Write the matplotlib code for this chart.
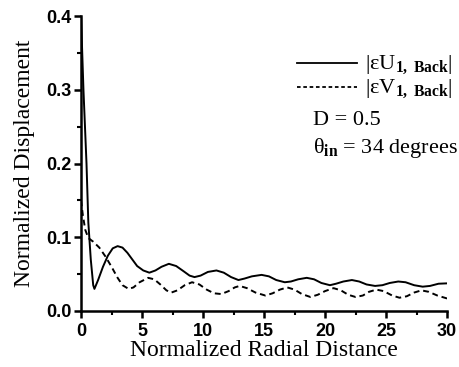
import matplotlib
matplotlib.use("Agg")
import matplotlib.pyplot as plt

plt.rcParams['mathtext.fontset'] = 'custom'
plt.rcParams['mathtext.rm'] = 'Liberation Serif'
plt.rcParams['mathtext.it'] = 'Liberation Serif'
plt.rcParams['mathtext.bf'] = 'Liberation Serif:bold'

# |eps U_1,Back| (solid)
u_x = [0, 0.2, 0.45, 0.6, 0.8, 1.0, 1.1, 1.4, 1.8, 2.2, 2.6, 3.0, 3.4, 3.8,
       4.2, 4.6, 5.1, 5.6, 6.1, 6.6, 7.2, 7.8, 8.4, 8.9, 9.3, 9.8, 10.4,
       11.1, 11.7, 12.3, 12.9, 13.4, 14.0, 14.8, 15.4, 16.0, 16.7, 17.2,
       17.8, 18.5, 19.1, 19.7, 20.4, 20.9, 21.5, 22.2, 22.8, 23.4, 24.1,
       24.7, 25.3, 26.0, 26.6, 27.3, 28.0, 28.6, 29.3, 30.0]
u_y = [0.40, 0.30, 0.20, 0.12, 0.07, 0.035, 0.030, 0.042, 0.060, 0.075,
       0.085, 0.088, 0.086, 0.079, 0.070, 0.061, 0.055, 0.052, 0.055, 0.060,
       0.064, 0.061, 0.054, 0.048, 0.046, 0.048, 0.053, 0.055, 0.052, 0.046,
       0.042, 0.044, 0.047, 0.049, 0.047, 0.042, 0.039, 0.040, 0.043, 0.045,
       0.043, 0.038, 0.035, 0.037, 0.040, 0.042, 0.040, 0.036, 0.034, 0.035,
       0.038, 0.040, 0.039, 0.035, 0.033, 0.034, 0.037, 0.0375]

# |eps V_1,Back| (dashed)
v_x = [0, 0.15, 0.35, 0.6, 1.0, 1.5, 2.0, 2.5, 3.0, 3.4, 3.9, 4.3, 4.8, 5.5,
       6.0, 6.5, 7.0, 7.4, 7.9, 8.5, 9.1, 9.7, 10.3, 10.9, 11.5, 12.1, 12.6,
       13.0, 13.6, 14.3, 15.1, 15.7, 16.3, 16.9, 17.5, 18.1, 18.8, 19.4,
       20.0, 20.7, 21.3, 21.9, 22.5, 23.1, 23.6, 24.2, 24.8, 25.5, 26.1,
       26.7, 27.3, 27.9, 28.5, 29.2, 30.0]
v_y = [0.15, 0.13, 0.11, 0.099, 0.094, 0.086, 0.074, 0.060, 0.045, 0.035,
       0.030, 0.032, 0.039, 0.045, 0.043, 0.036, 0.028, 0.025, 0.028, 0.035,
       0.039, 0.036, 0.029, 0.024, 0.023, 0.027, 0.032, 0.034, 0.031, 0.025,
       0.021, 0.024, 0.029, 0.032, 0.029, 0.023, 0.019, 0.022, 0.027, 0.031,
       0.028, 0.022, 0.019, 0.021, 0.026, 0.029, 0.027, 0.021, 0.018, 0.020,
       0.025, 0.028, 0.026, 0.021, 0.017]

x_ticks = [0, 5, 10, 15, 20, 25, 30]
y_ticks = [0.0, 0.1, 0.2, 0.3, 0.4]

fig = plt.figure(figsize=(4.59, 3.67), dpi=100)
ax = fig.add_axes([0.1765, 0.1526, 0.7975, 0.8034])

ax.plot(u_x, u_y, color='black', lw=1.4, ls='-')
ax.plot(v_x, v_y, color='black', lw=1.4, ls=(0, (3, 2)))

ax.set_xlim(0, 30)
ax.set_ylim(0, 0.4)
ax.set_xticks(x_ticks)
ax.set_yticks(y_ticks)
ax.set_xticks([2.5, 7.5, 12.5, 17.5, 22.5, 27.5], minor=True)
ax.set_yticks([0.05, 0.15, 0.25, 0.35], minor=True)
ax.set_xticklabels([str(t) for t in x_ticks])
ax.set_yticklabels([f"{t:.1f}" for t in y_ticks])

for s in ['top', 'right']:
    ax.spines[s].set_visible(False)
for s in ['left', 'bottom']:
    ax.spines[s].set_linewidth(1.8)
ax.tick_params(which='major', direction='out', length=5, width=1.8, pad=2)
ax.tick_params(axis='x', which='major', pad=4)
ax.tick_params(which='minor', direction='out', length=3, width=1.5)
for lab in ax.get_xticklabels() + ax.get_yticklabels():
    lab.set_fontfamily('Liberation Sans')
    lab.set_fontweight('bold')
    lab.set_fontsize(13)

ax.set_xlabel('Normalized Radial Distance', family='Liberation Serif',
              fontsize=17, labelpad=0)
ax.set_ylabel('Normalized Displacement', family='Liberation Serif',
              fontsize=17, labelpad=8)

# legend drawn by hand
ax.plot([17.7, 22.6], [0.336, 0.336], color='black', lw=1.3, clip_on=False)
ax.plot([17.7, 22.6], [0.304, 0.304], color='black', lw=1.3,
        ls=(0, (2, 1.5)), clip_on=False)
ax.text(23.3, 0.334, r'$|\varepsilon\mathrm{U}_{\mathbf{1,\ Back}}|$',
        fontsize=16, va='center', ha='left')
ax.text(23.3, 0.301, r'$|\varepsilon\mathrm{V}_{\mathbf{1,\ Back}}|$',
        fontsize=16, va='center', ha='left')
ax.text(19.0, 0.259, 'D = 0.5', family='Liberation Serif', fontsize=16,
        va='center', ha='left')
ax.text(19.0, 0.221, r'$\mathrm{\theta}_{\mathbf{in}}$ = 34 degrees',
        family='Liberation Serif', fontsize=16, va='center', ha='left')

fig.savefig('out.png', dpi=100)
